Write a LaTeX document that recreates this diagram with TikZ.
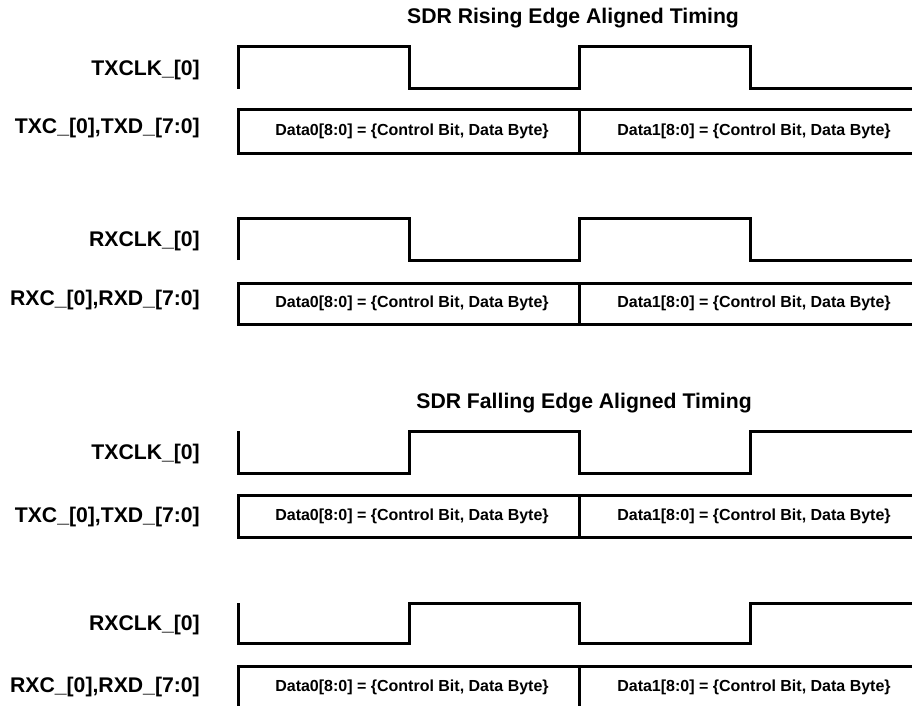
\documentclass[tikz,border=0pt]{standalone}
\usepackage{fontspec}
\setmainfont{Liberation Sans}

\begin{document}
\begin{tikzpicture}[
x=1pt,y=-1pt,
sig/.style={line width=3pt,line join=miter},
lbl/.style={anchor=east,inner sep=0pt,font=\bfseries\fontsize{21.2}{24}\selectfont},
ttl/.style={inner sep=0pt,font=\bfseries\fontsize{21.2}{24}\selectfont},
dat/.style={inner sep=0pt,font=\bfseries\fontsize{16}{19}\selectfont}
]
\clip (0,0) rectangle (912,706);

% rising edge aligned
\node[ttl] (rtitle) at (573,18) {SDR Rising Edge Aligned Timing};

\node[lbl] (txclkA) at (200,70) {TXCLK\_[0]};
\draw[sig] (238,89) -- (238,47) -- (409,47) -- (409,89) -- (579,89)
  -- (579,47) -- (750,47) -- (750,89) -- (920,89);
\node[lbl] (txdA) at (200,128) {TXC\_[0],TXD\_[7:0]};
\draw[sig] (920,110) -- (238,110) -- (238,153) -- (920,153);
\draw[sig] (579,110) -- (579,153);
\node[dat] (txd0A) at (412,131) {Data0[8:0] = \{Control Bit, Data Byte\}};
\node[dat] (txd1A) at (754,131) {Data1[8:0] = \{Control Bit, Data Byte\}};

\node[lbl] (rxclkA) at (200,241) {RXCLK\_[0]};
\draw[sig] (238,260) -- (238,218) -- (409,218) -- (409,260) -- (579,260)
  -- (579,218) -- (750,218) -- (750,260) -- (920,260);
\node[lbl] (rxdA) at (200,300) {RXC\_[0],RXD\_[7:0]};
\draw[sig] (920,283) -- (238,283) -- (238,324) -- (920,324);
\draw[sig] (579,283) -- (579,324);
\node[dat] (rxd0A) at (412,303) {Data0[8:0] = \{Control Bit, Data Byte\}};
\node[dat] (rxd1A) at (754,303) {Data1[8:0] = \{Control Bit, Data Byte\}};

% falling edge aligned
\node[ttl] (ftitle) at (584,403) {SDR Falling Edge Aligned Timing};

\node[lbl] (txclkB) at (200,454) {TXCLK\_[0]};
\draw[sig] (238,431) -- (238,473) -- (409,473) -- (409,431) -- (579,431)
  -- (579,473) -- (750,473) -- (750,431) -- (920,431);
\node[lbl] (txdB) at (200,517) {TXC\_[0],TXD\_[7:0]};
\draw[sig] (920,495) -- (238,495) -- (238,537) -- (920,537);
\draw[sig] (579,495) -- (579,537);
\node[dat] (txd0B) at (412,516) {Data0[8:0] = \{Control Bit, Data Byte\}};
\node[dat] (txd1B) at (754,516) {Data1[8:0] = \{Control Bit, Data Byte\}};

\node[lbl] (rxclkB) at (200,625) {RXCLK\_[0]};
\draw[sig] (238,603) -- (238,643) -- (409,643) -- (409,603) -- (579,603)
  -- (579,643) -- (750,643) -- (750,603) -- (920,603);
\node[lbl] (rxdB) at (200,687) {RXC\_[0],RXD\_[7:0]};
\draw[sig] (920,666) -- (238,666) -- (238,708) -- (920,708);
\draw[sig] (579,666) -- (579,708);
\node[dat] (rxd0B) at (412,687) {Data0[8:0] = \{Control Bit, Data Byte\}};
\node[dat] (rxd1B) at (754,687) {Data1[8:0] = \{Control Bit, Data Byte\}};
\end{tikzpicture}
\end{document}
